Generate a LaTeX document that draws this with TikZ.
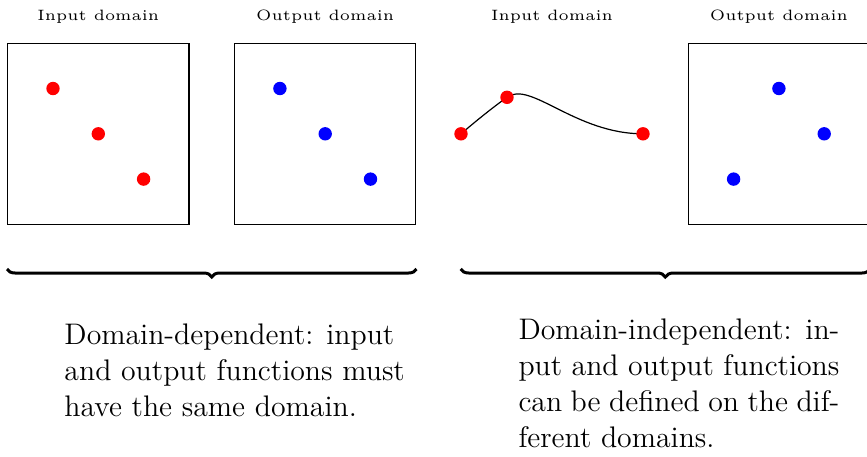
\documentclass[tikz,border=0pt]{standalone}
\usetikzlibrary{decorations.pathreplacing}
\begin{document}
\begin{tikzpicture}[x=0.5pt,y=-0.5pt,
  domainbox/.style={draw, line width=0.6pt, minimum width=90.65pt, minimum height=90.65pt, inner sep=0pt},
  dot/.style={circle, inner sep=0pt, minimum size=6.7pt},
  reddot/.style={dot, fill=red},
  bluedot/.style={dot, fill=blue},
  titletext/.style={anchor=base, scale=1.5, font=\tiny, inner sep=0pt},
  paratext/.style={anchor=north west, scale=1.24, align=left, inner sep=0pt, font=\fontsize{12}{14.5}\selectfont},
  curvestyle/.style={line width=0.6pt},
  bracestyle/.style={decorate, decoration={brace, mirror, amplitude=4pt}, line width=1.5pt}]
\useasboundingbox (0,0) rectangle (867,456);
\clip (0,0) rectangle (867,456);

% titles
\node[titletext] (t1) at (98.3,20.5) {Input domain};
\node[titletext] (t2) at (325.2,20.5) {Output domain};
\node[titletext] (t3) at (552,20.5) {Input domain};
\node[titletext] (t4) at (778.9,20.5) {Output domain};

% boxes
\node[domainbox] (box1) at (98.3,133.8) {};
\node[domainbox] (box2) at (325.2,133.8) {};
\node[domainbox] (box4) at (778.9,133.8) {};

% dots of box 1
\node[reddot] (a1) at (53,88.5) {};
\node[reddot] (a2) at (98.3,133.8) {};
\node[reddot] (a3) at (143.6,179.1) {};

% dots of box 2
\node[bluedot] (b1) at (279.9,88.5) {};
\node[bluedot] (b2) at (325.2,133.8) {};
\node[bluedot] (b3) at (370.5,179.1) {};

% curve of the third domain
\coordinate (c1) at (461,133.8);
\coordinate (c2) at (507,97.3);
\coordinate (c3) at (643,133.8);
\draw[curvestyle] (c1) .. controls (476,121) and (492,108) .. (c2)
                       .. controls (530,80) and (575,133.8) .. (c3);
\node[reddot] (r1) at (c1) {};
\node[reddot] (r2) at (c2) {};
\node[reddot] (r3) at (c3) {};

% dots of box 4
\node[bluedot] (d1) at (778.9,88.5) {};
\node[bluedot] (d2) at (824.2,133.8) {};
\node[bluedot] (d3) at (733.6,179.1) {};

% braces
\coordinate (bl1) at (7,269);
\coordinate (bl2) at (416.5,269);
\coordinate (br1) at (460.7,269);
\coordinate (br2) at (870,269);
\draw[bracestyle] (bl1) -- (bl2);
\draw[bracestyle] (br1) -- (br2);

% texts
\node[paratext] (p1) at (64,323.5) {Domain-dependent: input\\and output functions must\\have the same domain.};
\node[paratext] (p2) at (518,318.5) {\makebox[129.4pt][s]{Domain-independent: in-}\\\makebox[129.4pt][s]{put and output functions}\\\makebox[129.4pt][s]{can be defined on the dif-}\\ferent domains.};
\end{tikzpicture}
\end{document}
